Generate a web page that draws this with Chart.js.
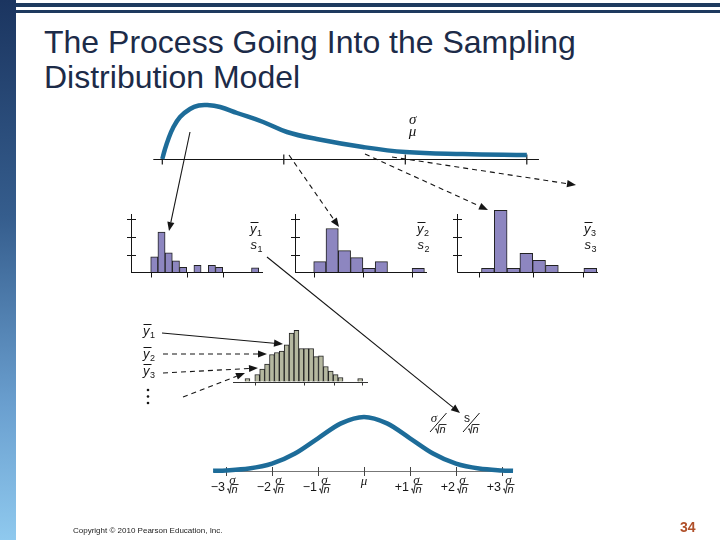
<!DOCTYPE html>
<html>
<head>
<meta charset="utf-8">
<title>Sampling Distribution Model</title>
<script src="https://cdn.jsdelivr.net/npm/chart.js@4.4.1/dist/chart.umd.min.js"></script>
<style>
  body { margin: 0; background: #fff; }
  #slide { position: relative; width: 720px; height: 540px; overflow: hidden; font-family: "Liberation Sans", Arial, sans-serif; }
  #side { position: absolute; left: 0; top: 0; width: 16px; height: 540px;
          background: linear-gradient(to bottom, #1b3560 0%, #355d8d 40%, #6a9fcf 75%, #8fc9ee 100%); }
  .rule { position: absolute; left: 16px; right: 0; background: #1e3a5f; }
  #title { position: absolute; left: 44px; top: 25px; font-size: 32px; line-height: 35px; color: #1c2b48; white-space: nowrap; }
  #copy { position: absolute; left: 73px; top: 526px; font-size: 8px; line-height: 10px; color: #222; white-space: nowrap; }
  #page { position: absolute; left: 680px; top: 519px; font-size: 14px; line-height: 16px; font-weight: bold; color: #b0502a; }
  canvas { position: absolute; }
</style>
</head>
<body>
<div id="slide">
  <div id="side"></div>
  <div class="rule" style="top:3px;height:4px"></div>
  <div class="rule" style="top:10px;height:3px"></div>
  <div id="title">The Process Going Into the Sampling<br>Distribution Model</div>
  <canvas id="overlay" width="720" height="540" style="left:0;top:0"></canvas>
  <div id="copy">Copyright © 2010 Pearson Education, Inc.</div>
  <div id="page">34</div>
</div>
<script>
// population curve (skewed) - x in axis units, height of curve
const popX = [0, 0.02, 0.05, 0.088, 0.146, 0.228, 0.3, 0.37, 0.476, 0.615, 0.83, 1.026, 1.27, 1.65, 2.0, 2.475, 3.0];
const popH = [0, 9, 20, 31, 42, 50, 53.5, 54, 52, 46, 37, 27, 20, 12, 7, 5, 4];
const popTicks = [0, 1, 2, 3];

// the three samples (bin heights)
const sample1 = [3.5, 9.1, 4.4, 2.6, 1.1, 0, 1.6, 0, 1.6, 1.1, 0, 0, 0, 0, 1.0];
const sample2 = [2.4, 9.9, 4.9, 3.3, 0.9, 2.4, 0, 0, 0.9];
const sample3 = [0.9, 14, 0.9, 4.3, 2.7, 1.6, 0, 0, 0.9];
const sample1Ticks = [0, 5, 10];
const sample2Ticks = [0, 4, 8];
const sample3Ticks = [-0.2, 4, 7.9];
const countTicks = [4, 8, 12];

// histogram of the sample means
const means = [3, 0, 7, 12.3, 17.5, 27, 29, 30.5, 36.7, 48.3, 51.2, 33, 33, 33, 24.8, 25.7, 15, 10.5, 6.8, 4, 0, 0, 0, 3];
const meansTicks = [2, 12, 18.2, 23.9];

// sampling distribution model (normal)
const normX = [-3.28, -3, -2.5, -2, -1.5, -1, -0.5, 0, 0.5, 1, 1.5, 2, 2.5, 3, 3.24];
const normH = [0.2, 0.6, 2.4, 7.3, 17.5, 32.7, 47.6, 54, 47.6, 32.7, 17.5, 7.3, 2.4, 0.6, 0.2];
const normTicks = [-3, -2, -1, 0, 1, 2, 3];
const normTickLabels = ['\u22123', '\u22122', '\u22121', '\u03bc', '+1', '+2', '+3'];

const BLUE = '#1d6c99';
const INK = '#151515';
const PURPLE = '#8d86c0';
const SAGE = '#b5b8a0';

const baseOpts = {
  responsive: false, animation: false, events: [],
  layout: { padding: 0 },
  plugins: { legend: { display: false }, tooltip: { enabled: false } }
};

function makeCanvas(id, g) {
  const c = document.createElement('canvas');
  c.id = id; c.width = g.width; c.height = g.height;
  c.style.left = g.left + 'px'; c.style.top = g.top + 'px';
  document.getElementById('slide').insertBefore(c, document.getElementById('overlay'));
  return c;
}

function scalesFor(g) {
  return {
    x: { type: 'linear', display: false, offset: false, min: (g.left - g.origin) / g.bin, max: (g.left + g.width - g.origin) / g.bin },
    y: { type: 'linear', display: false, min: (g.base - g.top - g.height) / g.unit, max: (g.base - g.top) / g.unit }
  };
}

// text helpers
function barSym(ctx, x, baseline, letter, sub, over) {
  ctx.save();
  ctx.fillStyle = INK; ctx.strokeStyle = INK;
  ctx.textAlign = 'left'; ctx.textBaseline = 'alphabetic';
  ctx.font = 'italic 13px "Liberation Sans"';
  ctx.fillText(letter, x, baseline);
  const w = ctx.measureText(letter).width;
  if (over) {
    ctx.lineWidth = 1;
    ctx.beginPath(); ctx.moveTo(x + 0.5, baseline - 10.5); ctx.lineTo(x + w + 2, baseline - 10.5); ctx.stroke();
  }
  ctx.font = '9px "Liberation Sans"';
  ctx.fillText(sub, x + w + 0.5, baseline + 3);
  ctx.restore();
}

function rootN(ctx, x, yb) {
  ctx.save();
  ctx.strokeStyle = INK; ctx.fillStyle = INK; ctx.lineWidth = 0.9;
  ctx.beginPath();
  ctx.moveTo(x, yb - 3.5); ctx.lineTo(x + 1.3, yb - 4.3); ctx.lineTo(x + 2.6, yb + 0.3);
  ctx.lineTo(x + 4.2, yb - 8.5); ctx.lineTo(x + 11.5, yb - 8.5);
  ctx.stroke();
  ctx.font = 'italic 11px "Liberation Sans"'; ctx.textAlign = 'left'; ctx.textBaseline = 'alphabetic';
  ctx.fillText('n', x + 4.6, yb);
  ctx.restore();
}

function greek(ctx, ch, x, yb, size) {
  ctx.save();
  ctx.fillStyle = INK;
  ctx.font = 'italic ' + size + 'px "Liberation Serif"';
  ctx.textAlign = 'center'; ctx.textBaseline = 'alphabetic';
  ctx.fillText(ch, x, yb);
  ctx.restore();
}

// population curve
const popGeo = { left: 150, top: 92, width: 395, height: 75, origin: 162.3, bin: 121.5, base: 159, unit: 1 };
new Chart(makeCanvas('pop', popGeo), {
  type: 'line',
  data: { datasets: [{ data: popX.map((x, i) => ({ x: x, y: popH[i] })), borderColor: BLUE, borderWidth: 4.5,
    pointRadius: 0, fill: false, tension: 0.4 }] },
  options: { ...baseOpts, scales: scalesFor(popGeo) },
  plugins: [{
    id: 'popAxis',
    beforeDatasetsDraw(chart) {
      const ctx = chart.ctx, xs = chart.scales.x, y0 = Math.round(chart.scales.y.getPixelForValue(0)) + 0.5;
      ctx.save(); ctx.strokeStyle = INK; ctx.lineWidth = 1.2;
      ctx.beginPath();
      ctx.moveTo(xs.getPixelForValue(-0.074), y0); ctx.lineTo(xs.getPixelForValue(3.1), y0);
      popTicks.forEach(t => { const p = xs.getPixelForValue(t); ctx.moveTo(p, y0 - 5); ctx.lineTo(p, y0 + 5); });
      ctx.stroke(); ctx.restore();
    },
    afterDatasetsDraw(chart) {
      const ctx = chart.ctx, xs = chart.scales.x, ys = chart.scales.y;
      greek(ctx, '\u03c3', xs.getPixelForValue(2.06), ys.getPixelForValue(35), 15);
      greek(ctx, '\u03bc', xs.getPixelForValue(2.06), ys.getPixelForValue(23), 15);
    }
  }]
});

function histogram(id, values, g, xTicks, label) {
  return new Chart(makeCanvas(id, g), {
    type: 'bar',
    data: { datasets: [{ data: values.map((v, i) => ({ x: i + 0.5, y: v })), backgroundColor: g.fill,
      borderColor: '#222', borderWidth: 1, borderSkipped: 'start', barThickness: g.bin }] },
    options: { ...baseOpts, scales: scalesFor(g) },
    plugins: [{
      id: 'frame',
      afterDatasetsDraw(chart) {
        const ctx = chart.ctx, xs = chart.scales.x, ys = chart.scales.y;
        const y0 = Math.round(ys.getPixelForValue(0)) + 0.5;
        ctx.save(); ctx.strokeStyle = g.axis || INK; ctx.lineWidth = 1;
        ctx.beginPath();
        ctx.moveTo(g.startPx - g.left, y0); ctx.lineTo(g.xEndPx - g.left, y0);
        xTicks.forEach(t => { const p = Math.round(xs.getPixelForValue(t)) + 0.5; ctx.moveTo(p, y0); ctx.lineTo(p, y0 + g.tickLen); });
        if (g.yTopPx) {
          const ax = Math.round(g.startPx - g.left) + 0.5;
          ctx.moveTo(ax, y0); ctx.lineTo(ax, g.yTopPx - g.top);
          countTicks.forEach(t => { const p = Math.round(ys.getPixelForValue(t)) + 0.5; ctx.moveTo(ax - 4.5, p); ctx.lineTo(ax + 4.5, p); });
        }
        ctx.stroke(); ctx.restore();
        if (label) {
          barSym(ctx, g.labelX - g.left, g.labelY1 - g.top, 'y', label, true);
          barSym(ctx, g.labelX - g.left + 0.5, g.labelY2 - g.top, 's', label, false);
        }
      }
    }]
  });
}

histogram('s1', sample1, { left: 122, top: 200, width: 148, height: 80, origin: 150.7, bin: 7.2, base: 272.3, unit: 4.425,
  startPx: 131, xEndPx: 263, yTopPx: 214, tickLen: 5, fill: PURPLE, labelX: 250, labelY1: 233, labelY2: 249 }, sample1Ticks, '1');
histogram('s2', sample2, { left: 287, top: 200, width: 148, height: 80, origin: 313.7, bin: 12.3, base: 272.3, unit: 4.425,
  startPx: 295, xEndPx: 427, yTopPx: 214, tickLen: 5, fill: PURPLE, labelX: 417, labelY1: 233, labelY2: 249 }, sample2Ticks, '2');
histogram('s3', sample3, { left: 450, top: 200, width: 155, height: 80, origin: 481.5, bin: 12.8, base: 272.3, unit: 4.425,
  startPx: 457.3, xEndPx: 598, yTopPx: 214, tickLen: 5, fill: PURPLE, labelX: 584, labelY1: 233, labelY2: 249 }, sample3Ticks, '3');
histogram('means', means, { left: 228, top: 320, width: 145, height: 70, origin: 245, bin: 4.9, base: 381.5, unit: 1,
  startPx: 233, xEndPx: 368, tickLen: 3, fill: SAGE, axis: '#333' }, meansTicks, null);

// sampling distribution model
const normGeo = { left: 205, top: 405, width: 318, height: 97, origin: 364, bin: 46, base: 471, unit: 1 };
new Chart(makeCanvas('norm', normGeo), {
  type: 'line',
  data: { datasets: [{ data: normX.map((x, i) => ({ x: x, y: normH[i] })), borderColor: BLUE, borderWidth: 4.5,
    pointRadius: 0, fill: false, cubicInterpolationMode: 'monotone' }] },
  options: { ...baseOpts, scales: scalesFor(normGeo) },
  plugins: [{
    id: 'normAxis',
    beforeDatasetsDraw(chart) {
      const ctx = chart.ctx, xs = chart.scales.x, y0 = Math.round(chart.scales.y.getPixelForValue(0)) + 0.5;
      ctx.save(); ctx.strokeStyle = '#777'; ctx.lineWidth = 1.2;
      ctx.beginPath(); ctx.moveTo(xs.getPixelForValue(-3.28), y0); ctx.lineTo(xs.getPixelForValue(3.24), y0); ctx.stroke();
      ctx.strokeStyle = '#444'; ctx.lineWidth = 1;
      ctx.beginPath();
      normTicks.forEach(t => { const p = Math.round(xs.getPixelForValue(t)) + 0.5; ctx.moveTo(p, y0 - 4.5); ctx.lineTo(p, y0 + 4.5); });
      ctx.stroke(); ctx.restore();
    },
    afterDatasetsDraw(chart) {
      const ctx = chart.ctx, xs = chart.scales.x;
      const yb = 471 - normGeo.top;
      normTicks.forEach((t, i) => {
        const p = xs.getPixelForValue(t);
        if (t === 0) { greek(ctx, normTickLabels[i], p, yb + 14, 13); return; }
        ctx.save(); ctx.fillStyle = INK; ctx.font = '12.5px "Liberation Sans"';
        ctx.textAlign = 'right'; ctx.textBaseline = 'alphabetic';
        ctx.fillText(normTickLabels[i], p - 1, yb + 20);
        ctx.restore();
        greek(ctx, '\u03c3', p + 6.5, yb + 12.5, 13);
        rootN(ctx, p + 1, yb + 22);
      });
      // sigma / root n and s / root n
      const lab = (sym, x0) => {
        const ox = x0 - normGeo.left, oy = 413 - normGeo.top;
        if (sym === 's') {
          ctx.save(); ctx.fillStyle = INK; ctx.font = '12px "Liberation Sans"'; ctx.textAlign = 'center';
          ctx.fillText('s', ox + 4, oy + 9); ctx.restore();
        } else greek(ctx, sym, ox + 4, oy + 9, 13);
        ctx.save(); ctx.strokeStyle = INK; ctx.lineWidth = 1;
        ctx.beginPath(); ctx.moveTo(ox + 16.5, oy); ctx.lineTo(ox, oy + 19); ctx.stroke(); ctx.restore();
        rootN(ctx, ox + 5, oy + 20);
      };
      lab('\u03c3', 430);
      lab('s', 463);
    }
  }]
});

// arrows and the list of means
(function () {
  const ctx = document.getElementById('overlay').getContext('2d');
  ctx.strokeStyle = INK; ctx.fillStyle = INK; ctx.lineWidth = 1.1;
  function arrow(a, dashed) {
    const [x1, y1, x2, y2] = a;
    const ang = Math.atan2(y2 - y1, x2 - x1), L = 9, W = 3.6;
    const bx = x2 - L * Math.cos(ang), by = y2 - L * Math.sin(ang);
    ctx.setLineDash(dashed ? [5, 4] : []);
    ctx.beginPath(); ctx.moveTo(x1, y1); ctx.lineTo(bx, by); ctx.stroke();
    ctx.setLineDash([]);
    ctx.beginPath(); ctx.moveTo(x2, y2);
    ctx.lineTo(bx - W * Math.sin(ang), by + W * Math.cos(ang));
    ctx.lineTo(bx + W * Math.sin(ang), by - W * Math.cos(ang));
    ctx.closePath(); ctx.fill();
  }
  arrow([190, 132, 169, 231], false);
  arrow([289, 155, 339, 227], true);
  arrow([365, 154, 488, 210], true);
  arrow([392, 157, 576, 185], true);
  arrow([267, 257, 460, 413], false);
  arrow([162, 333, 283, 344], false);
  arrow([163, 354, 267, 354], true);
  arrow([163, 373, 258, 368], true);
  arrow([183, 397, 245, 373], true);

  barSym(ctx, 143, 335, 'y', '1', true);
  barSym(ctx, 143, 358, 'y', '2', true);
  barSym(ctx, 143, 375, 'y', '3', true);
  [390, 396.5, 403].forEach(y => { ctx.beginPath(); ctx.arc(148, y, 1.3, 0, Math.PI * 2); ctx.fill(); });
})();
</script>
</body>
</html>
